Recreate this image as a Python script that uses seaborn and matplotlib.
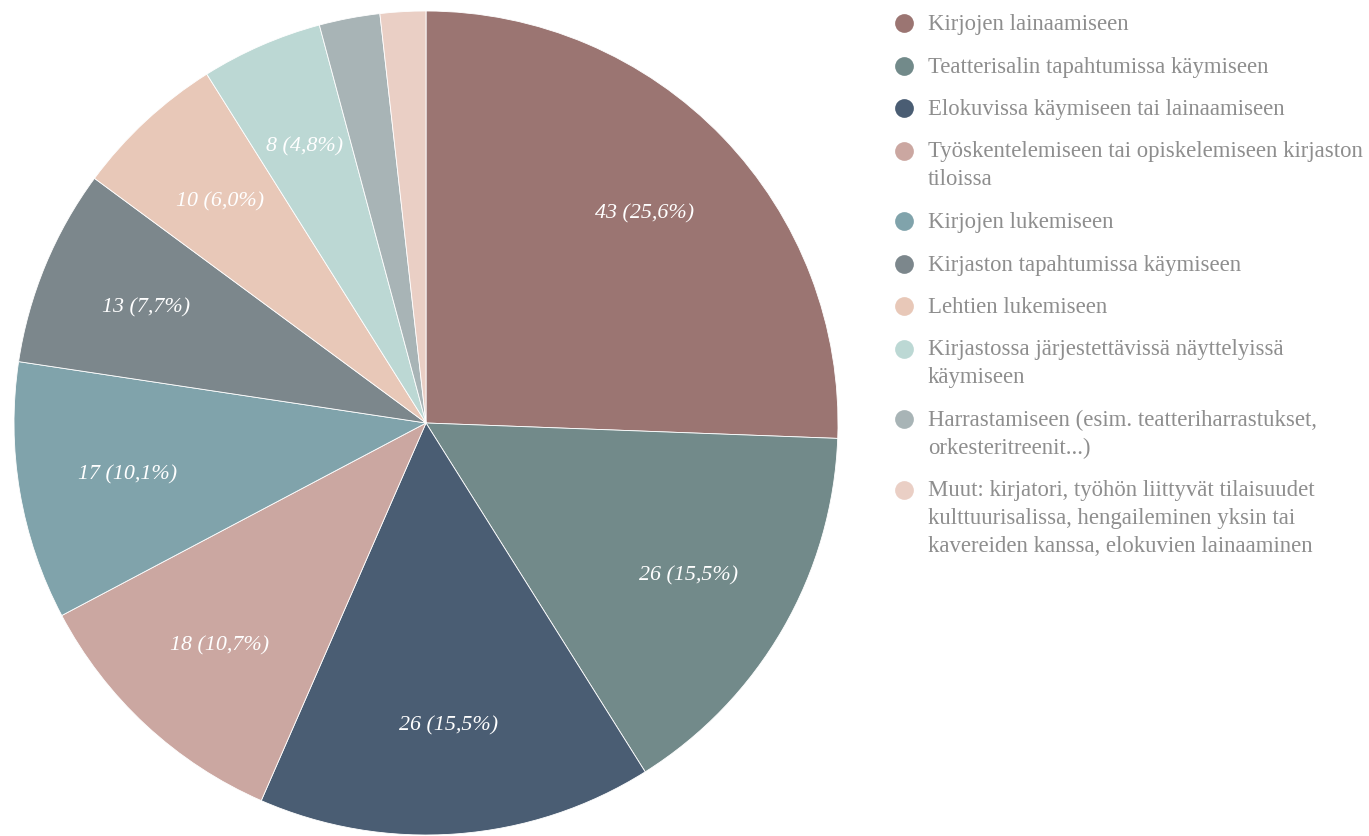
import matplotlib
matplotlib.use("Agg")
import matplotlib.pyplot as plt
from matplotlib.lines import Line2D
import seaborn as sns

categories = [
    "Kirjojen lainaamiseen",
    "Teatterisalin tapahtumissa käymiseen",
    "Elokuvissa käymiseen tai lainaamiseen",
    "Työskentelemiseen tai opiskelemiseen kirjaston\ntiloissa",
    "Kirjojen lukemiseen",
    "Kirjaston tapahtumissa käymiseen",
    "Lehtien lukemiseen",
    "Kirjastossa järjestettävissä näyttelyissä\nkäymiseen",
    "Harrastamiseen (esim. teatteriharrastukset,\norkesteritreenit...)",
    "Muut: kirjatori, työhön liittyvät tilaisuudet\nkulttuurisalissa, hengaileminen yksin tai\nkavereiden kanssa, elokuvien lainaaminen",
]
counts = [43, 26, 26, 18, 17, 13, 10, 8, 4, 3]
colors = ["#9b7572", "#728a8a", "#4a5d73", "#cba7a1", "#80a3ab",
          "#7c878c", "#e8c8b8", "#bcd8d4", "#a8b4b6", "#eacfc5"]

sns.set_theme(style="white")
plt.rcParams["font.family"] = ["Liberation Serif", "DejaVu Serif"]
palette = sns.color_palette(colors)

W, H = 1369, 837
fig = plt.figure(figsize=(W / 100, H / 100), dpi=100)

# pie axes: centre (426, 424) px, radius 412 px
cx, cy, r = 426, 424, 412
ax = fig.add_axes([(cx - r) / W, (H - cy - r) / H, 2 * r / W, 2 * r / H])

total = sum(counts)


def fmt(pct):
    n = round(pct * total / 100)
    if n < 5:
        return ""
    return f"{n} ({pct:.1f}%)".replace(".", ",")


wedges, texts, autotexts = ax.pie(
    counts, colors=palette, startangle=90, counterclock=False,
    autopct=fmt, pctdistance=0.735, radius=1.0,
    wedgeprops=dict(edgecolor="white", linewidth=0.6),
    textprops=dict(color="white", fontsize=15.8, style="italic"),
)
ax.set_xlim(-1, 1)
ax.set_ylim(-1, 1)
ax.set_aspect("equal")
ax.axis("off")

# legend drawn entry by entry so each marker sits beside the first line
text_color = "#8e8e8e"
y = 24.0
for label, col in zip(categories, palette):
    nlines = label.count("\n") + 1
    fig.add_artist(Line2D([904 / W], [1 - y / H], marker="o", markersize=13.5,
                          color=col, markeredgewidth=0,
                          transform=fig.transFigure))
    fig.text(928 / W, 1 - (y - 10) / H, label, fontsize=16.4, color=text_color,
             va="top", ha="left", linespacing=1.42)
    y += 42.5 + 28 * (nlines - 1)

fig.savefig("out.png", dpi=100)
